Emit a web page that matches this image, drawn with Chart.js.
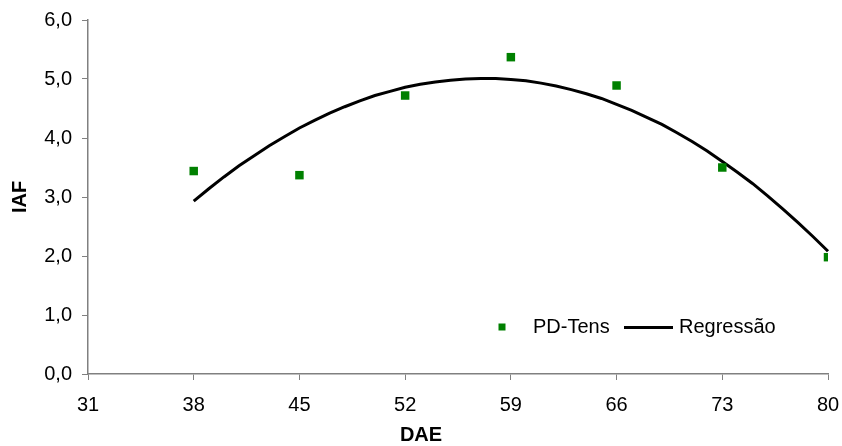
<!DOCTYPE html>
<html><head><meta charset="utf-8">
<script src="https://cdn.jsdelivr.net/npm/chart.js@4"></script>
<style>html,body{margin:0;padding:0;background:#fff;}#wrap{position:relative;width:842px;height:446px;}</style>
</head><body><div id="wrap"><canvas id="c" width="842" height="446"></canvas></div>
<script>
const dae = [38, 45, 52, 59, 66, 73, 80];
const iafObs = [3.44, 3.37, 4.72, 5.37, 4.89, 3.50, 1.98];
const regDae = [38,39,40,41,42,43,44,45,46,47,48,49,50,51,52,53,54,55,56,57,58,59,60,61,62,63,64,65,66,67,68,69,70,71,72,73,74,75,76,77,78,79,80];
const regIaf = [2.93,3.14,3.34,3.53,3.70,3.87,4.02,4.17,4.30,4.42,4.53,4.63,4.72,4.79,4.86,4.91,4.95,4.98,5.00,5.01,5.01,4.99,4.97,4.93,4.88,4.82,4.75,4.67,4.57,4.47,4.35,4.23,4.09,3.94,3.78,3.60,3.42,3.23,3.02,2.80,2.57,2.33,2.08];
const xTicks = [31, 38, 45, 52, 59, 66, 73, 80];
const yTicks = [0, 1, 2, 3, 4, 5, 6];
const seriesNames = ['PD-Tens', 'Regressão'];
const xTitle = 'DAE', yTitle = 'IAF';

const FONT = "'Liberation Sans', Arial, sans-serif";
Chart.defaults.font.family = FONT;
Chart.defaults.font.size = 20;
Chart.defaults.color = '#000';

const overlay = {
  id: 'overlay',
  afterDraw(chart) {
    const ctx = chart.ctx, a = chart.chartArea;
    ctx.save();
    ctx.fillStyle = '#000';
    ctx.font = "bold 20px " + FONT;
    ctx.textAlign = 'center';
    ctx.textBaseline = 'middle';
    ctx.fillText(xTitle, 421, 435);
    ctx.save();
    ctx.translate(20, (a.top + a.bottom) / 2);
    ctx.rotate(-Math.PI / 2);
    ctx.fillText(yTitle, 0, 0);
    ctx.restore();
    // legend
    ctx.fillStyle = '#008000';
    ctx.fillRect(498.5, 323.5, 7, 7);
    ctx.fillStyle = '#000';
    ctx.font = "20px " + FONT;
    ctx.textAlign = 'left';
    ctx.fillText(seriesNames[0], 533, 327);
    ctx.strokeStyle = '#000';
    ctx.lineWidth = 3;
    ctx.beginPath();
    ctx.moveTo(624, 327.5);
    ctx.lineTo(673, 327.5);
    ctx.stroke();
    ctx.fillText(seriesNames[1], 679, 327);
    ctx.restore();
  }
};

new Chart(document.getElementById('c'), {
  type: 'scatter',
  data: {
    datasets: [
      {
        label: seriesNames[0],
        data: dae.map((x, i) => ({x, y: iafObs[i]})),
        pointStyle: 'rect',
        pointRadius: 6,
        pointBorderWidth: 0,
        backgroundColor: '#008000',
        borderColor: '#008000',
        showLine: false,
        order: 1
      },
      {
        label: seriesNames[1],
        data: regDae.map((x, i) => ({x, y: regIaf[i]})),
        showLine: true,
        borderColor: '#000',
        borderWidth: 3,
        pointRadius: 0,
        tension: 0,
        fill: false,
        clip: false,
        order: 2
      }
    ]
  },
  options: {
    responsive: false,
    animation: false,
    layout: {padding: {top: 20, right: 14, left: 0, bottom: 0}},
    plugins: {legend: {display: false}, tooltip: {enabled: false}},
    scales: {
      x: {
        type: 'linear', min: 31, max: 80,
        afterFit(s) { s.height = 72; s.paddingRight = 0; s.paddingLeft = 0; },
        afterBuildTicks(s) { s.ticks = xTicks.map(v => ({value: v})); },
        grid: {drawOnChartArea: false, drawTicks: true, tickLength: 6, color: '#808080'},
        border: {color: '#808080', width: 1.5},
        ticks: {padding: 13, autoSkip: false, maxRotation: 0, color: '#000', callback: v => String(v)}
      },
      y: {
        type: 'linear', min: 0, max: 6,
        afterFit(s) { s.width = 88; s.paddingTop = 0; s.paddingBottom = 0; },
        afterBuildTicks(s) { s.ticks = yTicks.map(v => ({value: v})); },
        grid: {drawOnChartArea: false, drawTicks: true, tickLength: 6, color: '#808080'},
        border: {color: '#808080', width: 1.5},
        ticks: {padding: 10, color: '#000', callback: v => v.toFixed(1).replace('.', ',')}
      }
    }
  },
  plugins: [overlay]
});
</script></body></html>
